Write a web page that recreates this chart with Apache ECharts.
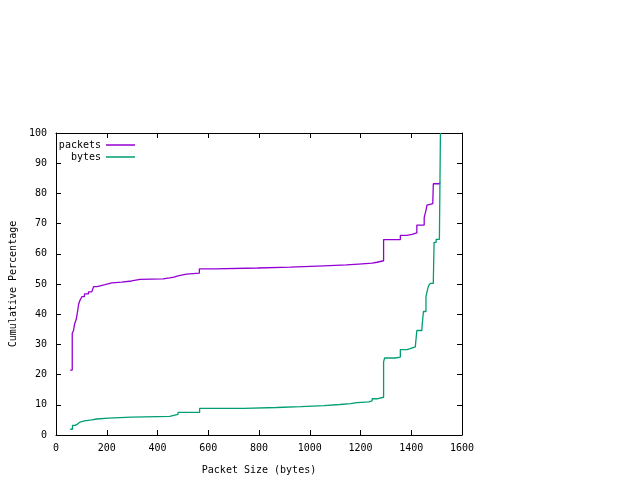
<!DOCTYPE html>
<html>
<head>
<meta charset="utf-8">
<script src="https://cdn.jsdelivr.net/npm/echarts@6/dist/echarts.min.js"></script>
<style>
  html, body { margin: 0; padding: 0; background: #fff; }
  #chart { width: 640px; height: 480px; }
</style>
</head>
<body>
<div id="chart"></div>
<script>
// packet size CDF
var pktSize = [56, 64, 69, 73, 80, 85, 89, 95, 102, 112, 128, 141, 148, 161, 174, 193, 220, 259, 298, 331, 422, 448, 465, 481, 514, 565, 625, 795, 923, 1056, 1144, 1193, 1246, 1265, 1291, 1357, 1383, 1403, 1422, 1451, 1458, 1462, 1468, 1485, 1487, 1511, 1514];
var pktPct = [21.5, 33.7, 34.6, 36.7, 38.4, 40.9, 43.3, 44.7, 45.8, 46.7, 47.4, 48.0, 49.1, 49.4, 49.8, 50.4, 50.6, 51.0, 51.5, 51.7, 52.0, 52.3, 52.7, 53.3, 53.6, 55.0, 55.3, 55.6, 56.0, 56.3, 56.6, 56.9, 57.2, 57.7, 64.7, 66.1, 66.4, 66.9, 69.5, 72.0, 74.4, 76.1, 76.6, 77.3, 83.2, 83.7, 83.7];

var byteSize = [56, 65, 76, 86, 95, 112, 141, 161, 207, 298, 448, 481, 566, 741, 869, 965, 1056, 1119, 1161, 1187, 1233, 1246, 1265, 1291, 1295, 1337, 1357, 1383, 1396, 1416, 1422, 1442, 1448, 1458, 1462, 1468, 1475, 1487, 1490, 1498, 1511, 1515];
var bytePct = [1.9, 3.2, 3.7, 4.3, 4.7, 5.0, 5.3, 5.6, 5.9, 6.2, 6.8, 7.5, 8.8, 9.1, 9.4, 9.7, 10.1, 10.4, 10.7, 11.0, 11.3, 12.0, 12.5, 24.2, 25.5, 25.8, 28.3, 28.6, 29.2, 29.7, 34.6, 35.4, 40.9, 45.8, 47.4, 49.4, 50.2, 51.0, 63.8, 64.8, 65.5, 100];

var seriesNames = ['packets', 'bytes'];
var colors = ['#9400d3', '#009e73'];

function pairs(xs, ys) {
    var out = [];
    for (var i = 0; i < xs.length; i++) out.push([xs[i], ys[i]]);
    return out;
}

var font = 'DejaVu Sans Mono';
var labelStyle = { fontFamily: font, fontSize: 10, color: '#000' };

// every side of the frame is an axis with inward ticks
function axis(extra) {
    return Object.assign({
        type: 'value',
        axisLine: { show: true, onZero: false, lineStyle: { color: '#000', width: 1 } },
        axisTick: { show: true, inside: true, length: 5, lineStyle: { color: '#000' } },
        splitLine: { show: false }
    }, extra);
}

function legendFor(name, top) {
    return {
        data: [name],
        orient: 'vertical',
        align: 'right',
        right: 505,
        top: top,
        icon: 'rect',
        itemWidth: 29,
        itemHeight: 1.5,
        padding: 0,
        textStyle: labelStyle
    };
}

var option = {
    animation: false,
    color: colors,
    legend: [legendFor('packets', 140), legendFor('bytes', 152)],
    grid: { left: 54, right: 178, top: 133, bottom: 42 },
    xAxis: [
        axis({
            min: 0, max: 1600, interval: 200, position: 'bottom',
            name: 'Packet Size (bytes)', nameLocation: 'middle', nameGap: 30,
            nameTextStyle: labelStyle,
            axisLabel: Object.assign({ margin: 8, formatter: function(v) { return String(v); } }, labelStyle)
        }),
        axis({ min: 0, max: 1600, interval: 200, position: 'top', axisLabel: { show: false } })
    ],
    yAxis: [
        axis({
            min: 0, max: 100, interval: 10, position: 'left',
            name: 'Cumulative Percentage', nameLocation: 'middle', nameGap: 38,
            nameTextStyle: labelStyle,
            axisLabel: Object.assign({ margin: 9 }, labelStyle)
        }),
        axis({ min: 0, max: 100, interval: 10, position: 'right', axisLabel: { show: false } })
    ],
    series: [{
        name: seriesNames[0],
        type: 'line',
        step: 'end',
        showSymbol: false,
        lineStyle: { width: 1.3 },
        data: pairs(pktSize, pktPct)
    }, {
        name: seriesNames[1],
        type: 'line',
        step: 'end',
        showSymbol: false,
        lineStyle: { width: 1.3 },
        data: pairs(byteSize, bytePct)
    }]
};

var myChart = echarts.init(document.getElementById('chart'));
myChart.setOption(option);
</script>
</body>
</html>
